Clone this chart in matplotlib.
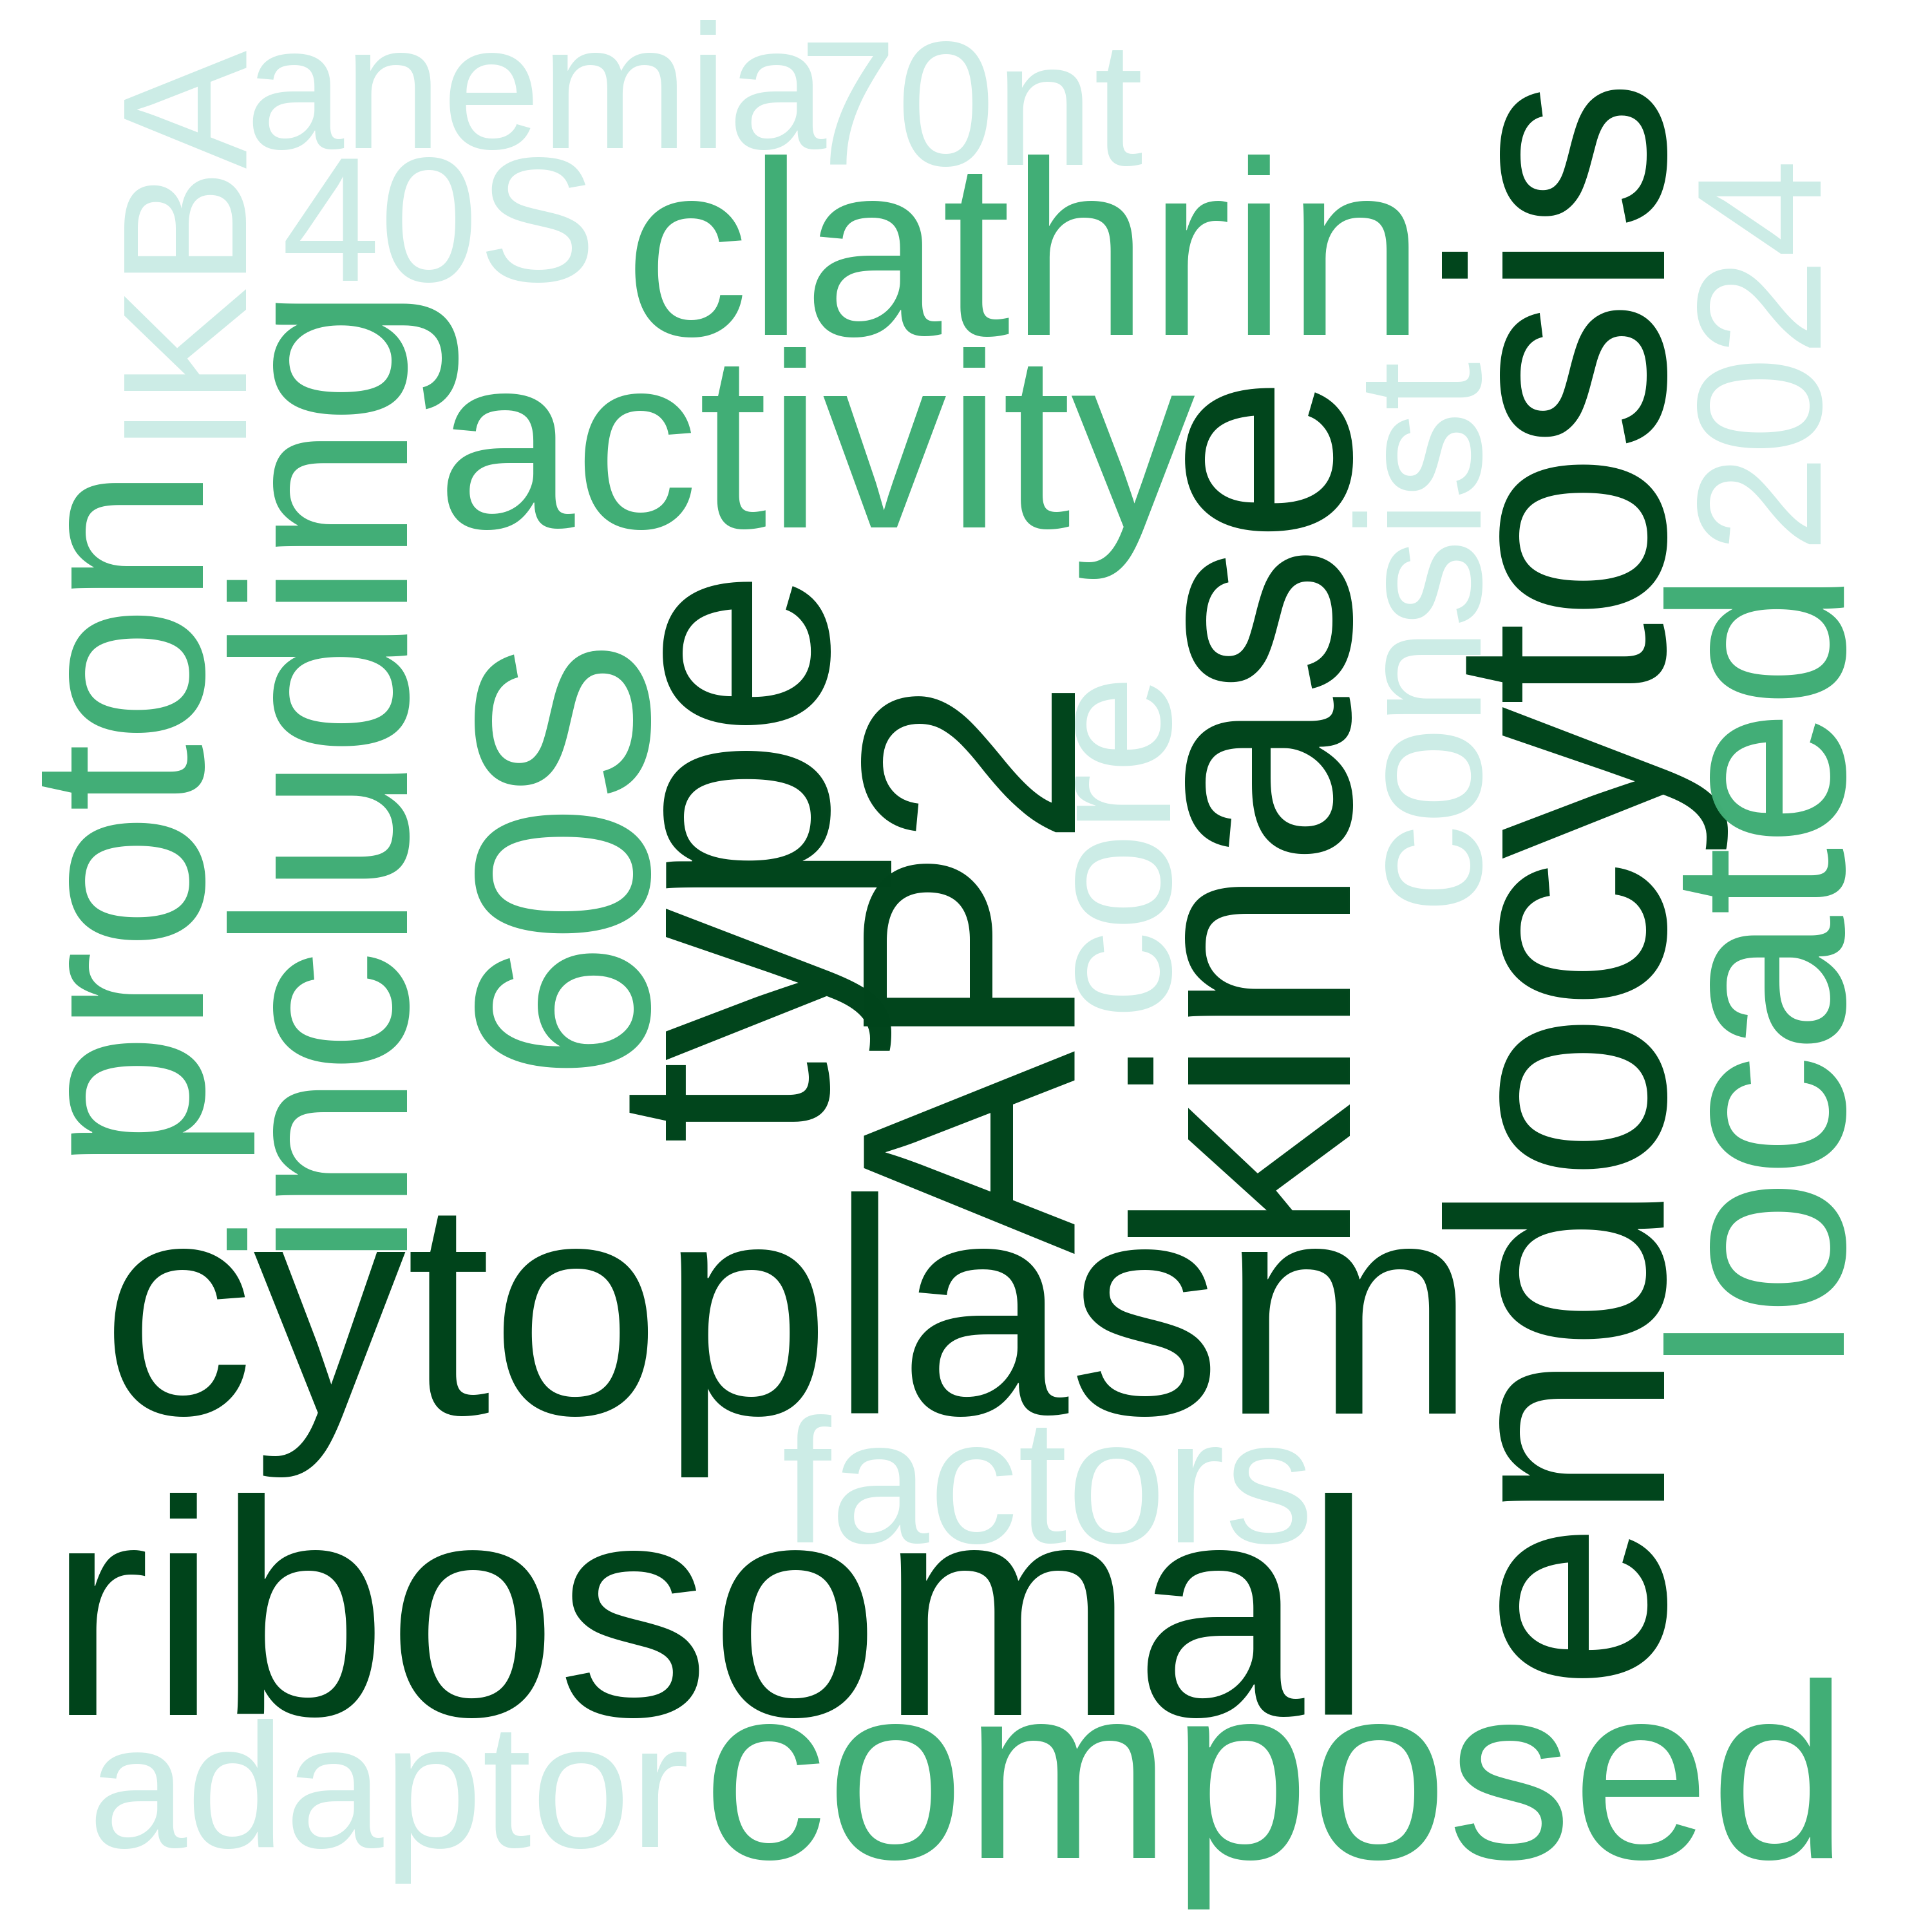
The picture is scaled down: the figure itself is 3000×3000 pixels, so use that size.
import matplotlib
matplotlib.use("Agg")
import matplotlib.pyplot as plt
from matplotlib.font_manager import findfont, FontProperties
from matplotlib.ft2font import FT2Font

# word cloud data: word, weight (bigger = more frequent)
words = ["ribosomal", "cytoplasm", "endocytosis", "AP2", "type", "kinase",
         "clathrin", "activity", "including", "proton", "60S", "located", "composed",
         "anemia", "70nt", "IKBA", "40S", "2024", "consist", "core", "factors", "adaptor"]
weights = [3, 3, 3, 3, 3, 3,
           2, 2, 2, 2, 2, 2, 2,
           1, 1, 1, 1, 1, 1, 1, 1, 1]

# colour and font size per weight (BuGn shades)
weight_colors = {3: "#00441b", 2: "#41ae76", 1: "#ccece6"}
weight_sizes = {3: 113.9, 2: 92.6, 1: 66.1}

# layout: text origin (x, y) on the baseline in a 1568x1568 canvas, rotation
CANVAS = 1568
layout = {
    "ribosomal":   (39, 1392, 0),
    "cytoplasm":   (82, 1147, 0),
    "endocytosis": (1351, 1372, 90),
    "AP2":         (873, 1018, 90),
    "type":        (672, 929, 90),
    "kinase":      (1096, 1020, 90),
    "clathrin":    (507, 272, 0),
    "activity":    (354, 428, 0),
    "including":   (331, 1028, 90),
    "proton":      (165, 950, 90),
    "60S":         (527, 877, 90),
    "located":     (1497, 1113, 90),
    "composed":    (570, 1508, 0),
    "anemia":      (199, 120, 0),
    "70nt":        (648, 134, 0),
    "IKBA":        (200, 368, 90),
    "40S":         (228, 228, 0),
    "2024":        (1478, 449, 90),
    "consist":     (1202, 741, 90),
    "core":        (950, 827, 90),
    "factors":     (634, 1252, 0),
    "adaptor":     (71, 1499, 0),
}

DPI = 300
FAMILY = "Liberation Sans"
font_file = findfont(FontProperties(family=FAMILY))


def left_bearing(word, size):
    # Agg shifts rotated glyph bitmaps by the ink offset along screen x,
    # so measure it to put vertical words where they belong
    f = FT2Font(font_file)
    f.set_size(size, DPI)
    f.set_text(word, 0)
    return f.get_bitmap_offset()[0] / 64.0 * CANVAS / (10 * DPI)


fig = plt.figure(figsize=(10, 10), dpi=DPI)
ax = fig.add_axes([0, 0, 1, 1])
ax.set_xlim(0, CANVAS)
ax.set_ylim(CANVAS, 0)
ax.axis("off")

for w, c in zip(words, weights):
    x, y, rot = layout[w]
    size = weight_sizes[c]
    if rot == 90:
        lsb = left_bearing(w, size)
        x, y = x - lsb, y - lsb
    ax.text(x, y, w, fontsize=size, color=weight_colors[c],
            family=FAMILY, rotation=rot, rotation_mode="anchor",
            ha="left", va="baseline")

fig.savefig("out.png", dpi=DPI, facecolor="white")
